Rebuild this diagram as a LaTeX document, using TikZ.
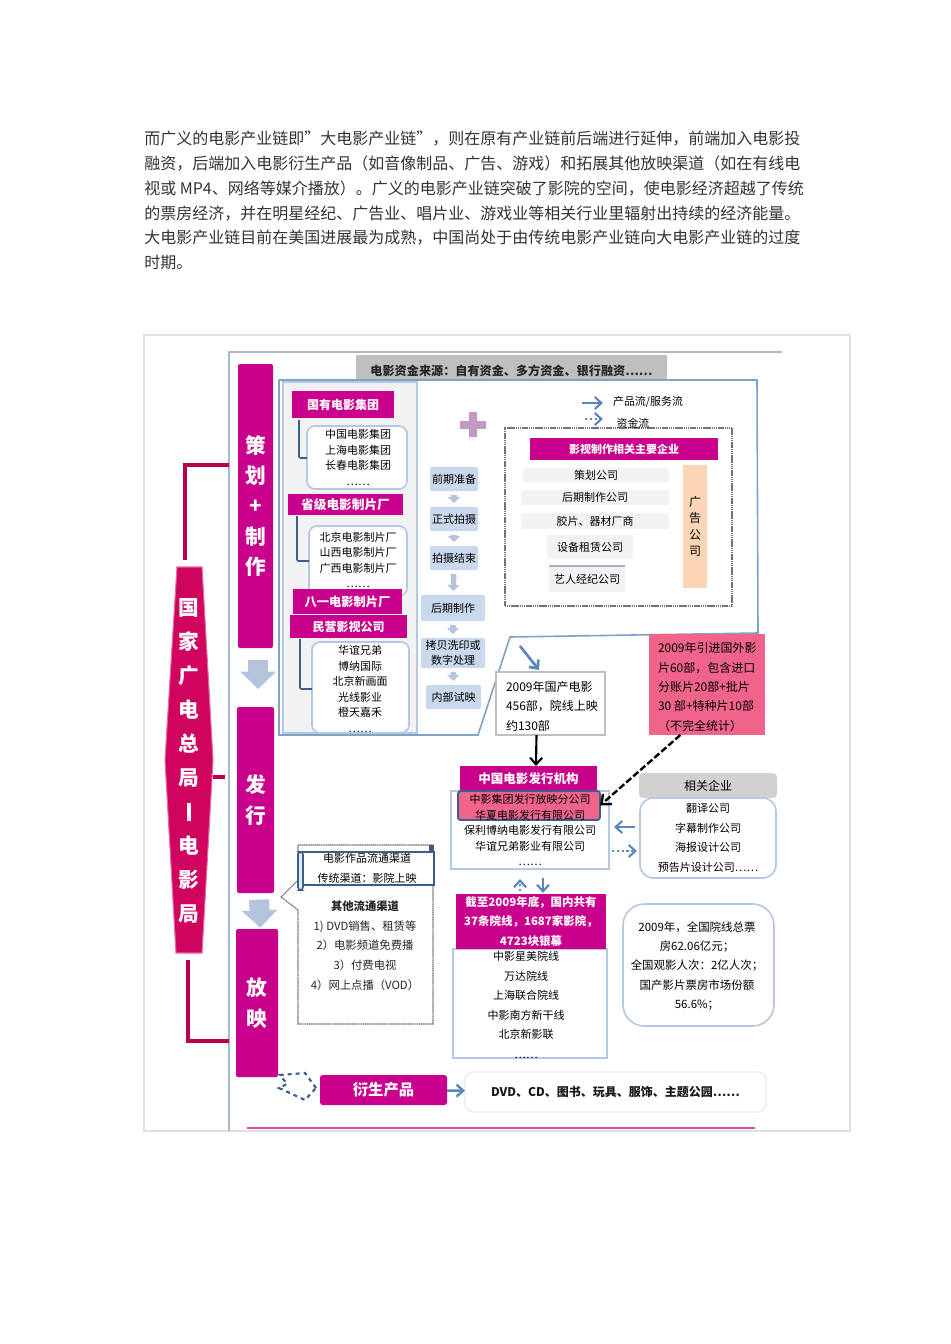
\documentclass[tikz,border=0pt]{standalone}
\usepackage{fontspec}
\setmainfont{Noto Sans CJK SC}
\usetikzlibrary{arrows.meta,calc}
\definecolor{mg}{HTML}{C8008C}
\definecolor{crim}{HTML}{D0045E}
\definecolor{crimline}{HTML}{B8004E}
\definecolor{pinkfill}{HTML}{F0648C}
\definecolor{bluearr}{HTML}{5B86BE}
\definecolor{frameblue}{HTML}{7FA3C7}
\definecolor{softblue}{HTML}{B4C7E4}
\definecolor{stepfill}{HTML}{C9D8EC}
\definecolor{arrfill}{HTML}{B4C4DC}
\definecolor{darkblue}{HTML}{3B5F8A}
\definecolor{peach}{HTML}{FBD5B5}
\newcommand\bx[6][]{%
  \pgfmathsetmacro\bxcx{(#3+#5)/2}\pgfmathsetmacro\bxcy{(#4+#6)/2}%
  \pgfmathsetmacro\bxw{(#5-#3)*0.75}\pgfmathsetmacro\bxh{(#6-#4)*0.75}%
  \coordinate (#2-c) at (\bxcx,\bxcy);
  \gdef\bxopts{minimum width=\bxw pt,minimum height=\bxh pt}%
  \expandafter\bxinner\expandafter{\bxopts}{#1}{#2}}
\newcommand\bxinner[3]{\tikzset{bxnow/.style={#1,#2}}\node[bxnow] (#3) at (#3-c)}
\tikzset{
  base/.style={inner sep=0pt,outer sep=0pt,align=center},
  mag/.style={base,fill=mg,text=white,font=\fontsize{9}{13}\selectfont\bfseries},
  col/.style={base,fill=mg,rounded corners=1.5pt,text=white,font=\fontsize{15.5}{22.8}\selectfont\bfseries},
  stepbox/.style={base,fill=stepfill,rounded corners=1pt,font=\fontsize{8.25}{11.2}\selectfont},
  listbox/.style={base,draw=softblue,line width=1.2pt,fill=white,rounded corners=6pt},
  plainbox/.style={base,draw=softblue,line width=1pt,fill=white},
  rowbox/.style={base,fill=black!5,font=\fontsize{8.25}{11}\selectfont},
  listtext/.style={base,font=\fontsize{8.25}{11.6}\selectfont,text=black},
  bracket/.style={draw=darkblue,line width=1.2pt,rounded corners=1pt},
  linkline/.style={draw=crimline,line width=2.4pt},
  bluearrow/.style={draw=bluearr,line width=1.6pt,-{Straight Barb[length=5pt,width=9pt]}},
  bluedots/.style={draw=bluearr,line width=1.6pt,dotted,-{Straight Barb[length=5pt,width=9pt,line cap=butt]}},
  smallstep/.style={draw=arrfill,line width=4pt,-{Triangle[length=4.5pt,width=9pt]},shorten >=3pt,shorten <=3pt},
  bigstep/.style={draw=arrfill,line width=15pt,-{Triangle[length=13pt,width=26pt]}},
  finedots/.style={dash pattern=on 1pt off 0.4pt},
}
\begin{document}
\begin{tikzpicture}[x=0.75pt,y=-0.75pt]
\useasboundingbox (0,0) rectangle (950,1344);
\fill[white] (0,0) rectangle (950,1344);
% intro paragraph
\node[anchor=north west,inner sep=0pt,align=left,text=black!80,font=\fontsize{12}{18.6}\selectfont] (intro) at (144,131) {而广义的电影产业链即”大电影产业链”，则在原有产业链前后端进行延伸，前端加入电影投\\融资，后端加入电影衍生产品（如音像制品、广告、游戏）和拓展其他放映渠道（如在有线电\\视或 MP4、网络等媒介播放）。广义的电影产业链突破了影院的空间，使电影经济超越了传统\\的票房经济，并在明星经纪、广告业、唱片业、游戏业等相关行业里辐射出持续的经济能量。\\大电影产业链目前在美国进展最为成熟，中国尚处于由传统电影产业链向大电影产业链的过度\\时期。};
% picture frame
\draw[black!12,line width=0.8pt] (144,335) rectangle (850,1131);
\draw[softblue!80!gray,line width=1pt] (229,1131) -- (229,352) -- (782,352);
% banner
\path[fill=crim,draw=crim!60!white,line width=0.8pt] (177,567) -- (202,567) -- (213,760) -- (202,953) -- (176,953) -- (165,760) -- cycle;
\node[base,text=white,font=\fontsize{15.5}{25.5}\selectfont\bfseries] (banner) at (189,761) {国\\家\\广\\电\\总\\局\\\rule[-1pt]{3.5pt}{13pt}\\电\\影\\局};
% columns
\bx[col]{plan}{238}{364}{273}{648} {策\\划\\+\\制\\作};
\bx[col]{dist}{237}{707}{274}{893} {发\\行};
\bx[col]{show}{236}{929}{278}{1077} {放\\映};
\coordinate (lkA) at (185,560);
\coordinate (lkAm) at (185,465);
\coordinate (lkAe) at (229,465);
\coordinate (lkB) at (188,960);
\coordinate (lkBm) at (188,1041);
\coordinate (lkBe) at (229,1041);
\coordinate (lkCs) at (213,777);
\coordinate (lkCe) at (225,777);
\draw[linkline] (lkA) -- (lkAm) -- (lkAe);
\draw[linkline] (lkB) -- (lkBm) -- (lkBe);
\draw[linkline] (lkCs) -- (lkCe);
\draw[bigstep,shorten <=9pt,shorten >=13.5pt] ([xshift=2pt]plan.south) -- ([xshift=2pt]dist.north);
\draw[bigstep,shorten <=5pt,shorten >=1pt] ([xshift=2.5pt]dist.south) -- ([xshift=2.5pt]show.north);
% funding bar
\bx[base,fill=black!25,font=\fontsize{9.1}{11}\selectfont\bfseries,text=black!85]{fund}{356}{355}{667}{380} {\raisebox{-6pt}[0pt][0pt]{电影资金来源：自有资金、多方资金、银行融资……}};
% blue frame
\path[draw=frameblue,line width=1.2pt,fill=white] (279,380) -- (757,380) -- (758,633) -- (510,637) -- (478,735) -- (279,735) -- cycle;
% grey panel
\bx[base,fill=black!5,draw=softblue,line width=1pt]{panel}{283}{382}{417}{733} {};
% panel groups
\bx[listbox]{gA}{307}{426}{407}{489} {};
\bx[mag]{hA}{292}{391}{394}{418} {国有电影集团};
\node[listtext] (tA) at (358,457.5) {中国电影集团\\上海电影集团\\长春电影集团\\……};
\draw[bracket] (299,420) -- (299,458) -- (gA.west |- 299,458);
\bx[listbox]{gB}{309}{526}{407}{596} {};
\bx[mag,font=\fontsize{9.5}{13}\selectfont\bfseries]{hB}{288}{494}{403}{515} {省级电影制片厂};
\node[listtext] (tB) at (358,560) {北京电影制片厂\\山西电影制片厂\\广西电影制片厂\\……};
\draw[bracket] (297,516) -- (297,561) -- (gB.west |- 297,561);
\bx[mag,font=\fontsize{9.2}{13}\selectfont\bfseries]{hC}{293}{589}{402}{614} {八一电影制片厂};
\bx[listbox]{gD}{312}{642}{409}{733} {};
\bx[mag]{hD}{290}{615}{407}{638} {民营影视公司};
\node[listtext] (tD) at (360,689) {华谊兄弟\\博纳国际\\北京新画面\\光线影业\\橙天嘉禾\\……};
\draw[bracket] (300,639) -- (300,689) -- (gD.west |- 300,689);
% plus
\fill[black!20!violet!40!white] (469,412) rectangle (477,437);
\fill[black!20!violet!40!white] (460,420.5) rectangle (486,428.5);
% process steps
\bx[stepbox]{s1}{430}{467}{478}{491} {前期准备};
\bx[stepbox]{s2}{430}{507}{478}{531} {正式拍摄};
\bx[stepbox]{s3}{430}{546}{478}{570} {拍摄结束};
\bx[stepbox]{s4}{421}{595}{485}{621} {后期制作};
\bx[stepbox]{s5}{421}{638}{485}{668} {拷贝洗印或\\数字处理};
\bx[stepbox]{s6}{426}{685}{481}{709} {内部试映};
\draw[smallstep] (s1) -- (s2);
\draw[smallstep] (s2) -- (s3);
\draw[smallstep] (s3) -- (s4);
\draw[smallstep] (s4) -- (s5);
\draw[smallstep] (s5) -- (s6);
% legend
\coordinate (lgAa) at (582,403); \coordinate (lgAb) at (603,403);
\coordinate (lgBa) at (585,419); \coordinate (lgBb) at (603,419);
\draw[bluearrow] (lgAa) -- (lgAb);
\draw[bluedots] (lgBa) -- (lgBb);
\node[base,font=\fontsize{8.2}{10}\selectfont,text=black] (lgA) at (648,402) {产品流/服务流};
% companies box
\bx[base,draw=black!55,finedots,line width=1pt,fill=white]{corp}{505}{428}{732}{606} {};
\node[base,font=\fontsize{8.2}{10}\selectfont,text=black] (lgB) at (633,423) {资金流};
\bx[mag,font=\fontsize{8.25}{11}\selectfont\bfseries]{corpH}{530}{438}{718}{460} {影视制作相关主要企业};
\bx[rowbox]{r1}{523}{468}{669}{482} {策划公司};
\bx[rowbox]{r2}{521}{490}{669}{505} {后期制作公司};
\bx[rowbox]{r3}{521}{513}{669}{529} {胶片、器材厂商};
\bx[rowbox]{r4}{547}{535}{633}{559} {设备租赁公司};
\bx[rowbox]{r5}{549}{566}{625}{592} {艺人经纪公司};
\draw[softblue!70!gray,line width=0.8pt] (r5.north west) -- (r5.north east);
\bx[base,fill=peach,font=\fontsize{9}{12.4}\selectfont]{ad}{683}{465}{707}{588} {广\\告\\公\\司};
% film counts
\bx[base,draw=black!25,line width=1pt,fill=white]{dom}{496}{672}{605}{735} {};
\node[base,align=left,anchor=west,font=\fontsize{9}{14.6}\selectfont,text=black] (domT) at (506,706) {2009年国产电影\\456部，院线上映\\约130部};
\bx[base,fill=pinkfill]{imp}{649}{634}{765}{735} {};
\node[base,align=left,anchor=west,font=\fontsize{9}{14.6}\selectfont,text=black] (impT) at (658,687) {2009年引进国外影\\片60部，包含进口\\分账片20部+批片\\30 部+特种片10部\\（不完全统计）};
\coordinate (ardA) at (520,646); \coordinate (ardB) at (539,670);
\draw[bluearrow,line width=2pt] (ardA) -- (ardB);
% distribution
\bx[mag,font=\fontsize{9.4}{13}\selectfont\bfseries]{jigou}{460}{766}{597}{791} {中国电影发行机构};
\bx[plainbox]{fx}{451}{791}{609}{869} {};
\bx[base,fill=pinkfill,draw=darkblue,line width=1.4pt,rounded corners=2pt]{fxp}{458}{791}{600}{820} {};
\node[listtext] (fxT) at (530,830) {中影集团发行放映分公司\\华夏电影发行有限公司\\保利博纳电影发行有限公司\\华谊兄弟影业有限公司\\……};
\draw[black,line width=1.6pt,-{Straight Barb[length=5pt,width=9pt]}] ([xshift=-10.5pt]dom.south) -- ([xshift=5.6pt]jigou.north);
\draw[black,line width=1.8pt,dash pattern=on 5pt off 2pt,-{Straight Barb[length=6pt,width=10pt]}] ([xshift=-20pt]imp.south) -- (fxp.east);
% related firms
\bx[base,fill=black!18,rounded corners=3pt,font=\fontsize{9}{12}\selectfont]{relH}{639}{773}{777}{798} {相关企业};
\bx[listbox,rounded corners=10pt]{rel}{640}{798}{776}{878} {};
\node[listtext,font=\fontsize{8.25}{14.6}\selectfont] (relT) at (708,838) {翻译公司\\字幕制作公司\\海报设计公司\\预告片设计公司……};
\coordinate (fxIn) at (614,827); \coordinate (relOut) at (635,827);
\coordinate (fxOut) at (612,851); \coordinate (relIn) at (637,851);
\draw[bluearrow] (relOut) -- (fxIn);
\draw[bluedots] (fxOut) -- (relIn);
% cinemas
\bx[plainbox]{yx}{453}{949}{607}{1058} {};
\bx[base,fill=mg,text=white,font=\fontsize{8.6}{14.6}\selectfont\bfseries]{yxH}{456}{894}{606}{949} {截至2009年底，国内共有\\37条院线，1687家影院，\\4723块银幕};
\node[listtext,font=\fontsize{8.25}{14.6}\selectfont] (yxT) at (526,1005) {中影星美院线\\万达院线\\上海联合院线\\中影南方新干线\\北京新影联\\……};
\coordinate (upA) at (520,891); \coordinate (upB) at (520,879);
\coordinate (dnA) at (543,878); \coordinate (dnB) at (543,893);
\draw[bluedots] (upA) -- (upB);
\draw[bluearrow] (dnA) -- (dnB);
\bx[listbox,rounded corners=16pt]{stat}{623}{904}{774}{1026} {};
\node[base,font=\fontsize{8.6}{14.6}\selectfont,text=black] (statT) at (697,966) {2009年，全国院线总票\\房62.06亿元；\\全国观影人次：2亿人次；\\国产影片票房市场份额\\56.6\%；};
% scroll callout
\path[draw=black!55,line width=0.8pt,finedots,fill=white] (298,845) -- (433,845) -- (433,1024) -- (298,1024) -- (298,910) -- (281,897) -- (298,880) -- cycle;
\bx[base,draw=darkblue,line width=1.2pt,fill=white]{scr}{302}{852}{434}{885} {};
\fill[darkblue] (428.5,845) rectangle (433.5,852);
\draw[darkblue,fill=softblue!40,line width=1.2pt,rounded corners=2pt] (298,852) rectangle (303,890);
\node[base,font=\fontsize{8.25}{14.6}\selectfont,text=black] (scrT) at (367,868.5) {电影作品流通渠道\\传统渠道：影院上映};
\node[base,font=\fontsize{8.5}{14.8}\selectfont,text=black!85] (scrL) at (365,945.5) {\bfseries 其他流通渠道\\1) DVD销售、租赁等\\2）电影频道免费播\\3）付费电视\\4）网上点播（VOD）};
% derivatives
\bx[base,draw=black!8,line width=0.8pt,fill=white,rounded corners=6pt,font=\fontsize{9}{12}\selectfont\bfseries,text=black!90]{der}{465}{1072}{766}{1112} {DVD、CD、图书、玩具、服饰、主题公园……};
\bx[mag,rounded corners=2pt,font=\fontsize{11.5}{14}\selectfont\bfseries]{derH}{320}{1075}{447}{1105} {衍生产品};
\draw[bluearrow,line width=1.8pt] (derH) -- (der);
\draw[darkblue,line width=1.6pt,dashed] (316,1088) -- (305,1073) -- (280,1075) -- (287,1084) -- (279,1088) -- (305,1100) -- cycle;
% bottom rule
\coordinate (ruleA) at (247,1128); \coordinate (ruleB) at (755,1128);
\draw[mg!70!white,line width=1.2pt] (ruleA) -- (ruleB);
\end{tikzpicture}
\end{document}
